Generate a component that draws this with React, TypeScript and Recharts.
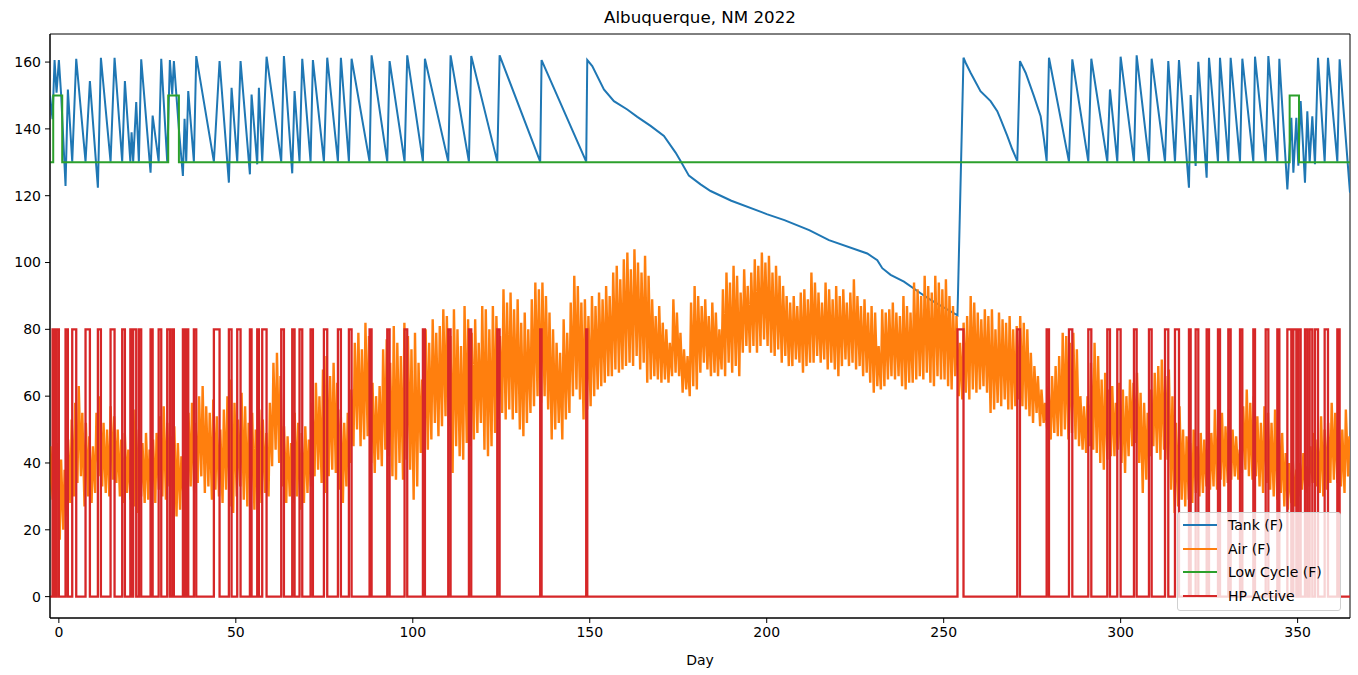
import { LineChart, Line, XAxis, YAxis, ReferenceArea } from 'recharts';

const DAY_MIN = -2.5;
const DAY_MAX = 364.8;
const Y_MIN = -6.4;
const Y_MAX = 168.4;

const xTicks = [0, 50, 100, 150, 200, 250, 300, 350];
const yTicks = [0, 20, 40, 60, 80, 100, 120, 140, 160];

// Tank temperature (F): [day, value] at each turning point of the sawtooth
const tank: [number, number][] = [
  [-2.5, 150], [-1.78, 142.9], [-1.21, 160.6], [-0.65, 150.8], [0.01, 160.6], [0.67, 149.8],
  [1.89, 122.9], [2.55, 151.8], [3.78, 130.2], [4.91, 161], [7.54, 130.2], [8.77, 154.3],
  [11.03, 122.4], [11.88, 161.3], [14.61, 130.2], [15.74, 161.3], [17.9, 130.2], [18.66, 154.3],
  [20.2, 130.2], [20.55, 139], [21.0, 130.2], [21.86, 148], [22.61, 130.2], [23.27, 160.8],
  [25.91, 126.9], [26.5, 144], [28.2, 130.2], [28.93, 161], [30.62, 130.2], [31.37, 160.6],
  [32.03, 150.3], [32.5, 160.3], [33.92, 139.9], [35.05, 125.9], [35.52, 143], [35.99, 130.2],
  [36.56, 151.3], [38.15, 130.2], [38.82, 161.8], [43.8, 130.2], [45.41, 160.3], [48.04, 123.9],
  [48.8, 152.3], [50.4, 130.2], [51.34, 160.3], [53.98, 126.4], [54.45, 150.3], [56.05, 129.4],
  [56.52, 152.3], [57.46, 130.2], [58.69, 161.6], [62.83, 130.2], [63.59, 161.8], [65.94, 126.7],
  [66.6, 151.3], [68.0, 130.2], [68.77, 161], [71.12, 130.2], [71.78, 160.6], [74.89, 130.2],
  [75.83, 161.3], [78.85, 130.2], [79.69, 161.3], [81.95, 130.2], [82.71, 161], [87.79, 130.2],
  [88.36, 162], [92.79, 130.2], [93.45, 160.3], [97.68, 130.2], [98.43, 162], [102.86, 130.2],
  [103.43, 161], [110.02, 130.2], [110.68, 162], [115.86, 130.2], [116.52, 161.8], [123.87, 130.2],
  [124.53, 162], [136.0, 130.2], [136.39, 160.6], [149.0, 130.2], [149.3, 160.6], [150.71, 158.8],
  [154.0, 151.8], [156.83, 148.3], [160.6, 145.8], [163.43, 143.6], [167.19, 140.9], [170.96, 137.9],
  [174.25, 132.9], [175.66, 130.4], [178.01, 126], [181.31, 123.4], [184.14, 121.4], [190, 118.5],
  [200, 114.5], [205, 112.7], [212, 109.7], [217.58, 106.7], [228.4, 102.7], [231.24, 100.7],
  [232.65, 98.3], [235.0, 96.3], [238.77, 94.3], [243.48, 90.8], [246.3, 88.8], [253.9, 84.2],
  [255.6, 161.3], [256.2, 159.8], [257.6, 156.8], [260.4, 151.3], [263.25, 148.3], [265.14, 145.3],
  [266.08, 142.9], [267.97, 137.9], [269.38, 133.9], [270.79, 130.4], [271.55, 160.3], [273.15, 156.8],
  [275.5, 149.8], [277.39, 143.8], [278.33, 136.9], [279.09, 130.4], [279.75, 161.3], [285.4, 130.2],
  [286.34, 160.8], [290.86, 130.2], [291.71, 161], [296.23, 130.2], [296.98, 151.8], [299.05, 130.2],
  [299.99, 161.6], [303.76, 130.2], [304.52, 162], [308.0, 130.2], [308.76, 161], [312.53, 130.2],
  [313.46, 160.3], [315.35, 130.2], [316.48, 160.6], [319.3, 122.4], [319.78, 150.1], [321.19, 128.9],
  [321.94, 160.1], [324.3, 125.4], [324.96, 161.3], [327.5, 130.2], [328.07, 161.3], [330.42, 130.2],
  [331.08, 161.3], [333.72, 130.2], [334.38, 161], [337.49, 130.2], [337.96, 161.6], [340.98, 130.2],
  [341.73, 161.8], [344.27, 130.2], [344.84, 161], [347.1, 121.9], [348.22, 143.3], [348.8, 126.9],
  [349.64, 143.3], [350.2, 129], [350.86, 148.3], [352.08, 123.9], [352.74, 145.3], [353.4, 129.9],
  [354.15, 143.8], [354.9, 129.4], [355.76, 161.3], [357.64, 130.2], [358.58, 161.3], [361.22, 130.2],
  [361.87, 160.8], [364.8, 120.9],
];

// Outdoor air (F): daily low and high, one value per day starting at AIR_FIRST_DAY
const AIR_FIRST_DAY = -3;
const airLow = [
  30, 29, 32, 17, 20, 24, 28, 30, 34, 36,
  27, 30, 28, 31, 36, 33, 31, 30, 35, 34,
  30, 28, 31, 29, 27, 25, 30, 28, 29, 31,
  28, 32, 30, 29, 33, 27, 24, 26, 29, 31,
  33, 31, 34, 36, 31, 33, 29, 32, 30, 28,
  32, 27, 25, 30, 33, 29, 27, 30, 26, 25,
  28, 31, 30, 39, 44, 40, 33, 28, 30, 28,
  30, 26, 28, 31, 33, 36, 38, 34, 31, 36,
  38, 37, 32, 28, 33, 40, 45, 50, 45, 47,
  48, 40, 37, 41, 39, 44, 42, 36, 35, 40,
  35, 41, 38, 29, 33, 43, 46, 44, 47, 52,
  48, 51, 54, 51, 37, 45, 42, 41, 46, 45,
  47, 49, 52, 44, 42, 45, 49, 53, 55, 53,
  56, 53, 55, 50, 48, 52, 55, 57, 60, 58,
  60, 56, 47, 50, 52, 47, 53, 55, 60, 62,
  59, 53, 56, 57, 60, 62, 63, 64, 66, 66,
  68, 67, 68, 69, 70, 69, 72, 68, 70, 64,
  65, 66, 65, 64, 65, 64, 66, 67, 66, 61,
  62, 60, 63, 62, 67, 70, 68, 66, 67, 66,
  68, 66, 70, 67, 69, 66, 73, 75, 73, 75,
  73, 75, 77, 75, 73, 72, 74, 70, 72, 69,
  69, 71, 70, 67, 69, 70, 70, 72, 70, 71,
  68, 70, 68, 66, 69, 71, 69, 70, 68, 69,
  66, 67, 64, 61, 63, 62, 63, 65, 66, 65,
  66, 63, 62, 64, 64, 65, 66, 65, 67, 64,
  63, 66, 65, 65, 63, 62, 66, 60, 59, 61,
  59, 62, 61, 62, 63, 61, 55, 56, 58, 57,
  59, 56, 56, 57, 59, 57, 56, 54, 52, 55,
  51, 52, 50, 47, 49, 48, 48, 50, 47, 49,
  47, 45, 44, 43, 45, 44, 43, 40, 38, 41,
  42, 42, 44, 40, 37, 42, 45, 46, 40, 31,
  35, 42, 45, 43, 41, 44, 41, 32, 25, 27,
  29, 27, 29, 28, 31, 30, 31, 33, 32, 33,
  32, 35, 33, 34, 35, 36, 35, 37, 38, 36,
  35, 36, 33, 31, 34, 32, 30, 29, 31, 27,
  26, 28, 27, 30, 32, 31, 33, 34, 33, 31,
  30, 32, 34, 35, 34, 33, 31, 36,
];
const airHigh = [
  45, 49, 46, 41, 38, 47, 53, 58, 63, 55,
  52, 48, 45, 55, 60, 52, 50, 57, 54, 50,
  47, 49, 44, 52, 56, 50, 46, 49, 44, 47,
  49, 54, 57, 52, 48, 51, 46, 42, 49, 55,
  58, 52, 60, 63, 57, 55, 59, 54, 50, 56,
  60, 65, 58, 53, 61, 57, 52, 55, 50, 56,
  53, 49, 58, 70, 73, 66, 51, 48, 46, 55,
  52, 49, 51, 47, 58, 64, 60, 68, 72, 66,
  70, 64, 56, 52, 55, 62, 76, 79, 74, 82,
  78, 64, 60, 63, 74, 77, 70, 81, 76, 72,
  82, 78, 74, 79, 70, 65, 80, 76, 83, 79,
  81, 86, 84, 78, 86, 80, 75, 87, 83, 79,
  83, 76, 87, 86, 80, 87, 84, 78, 92, 88,
  91, 86, 89, 82, 85, 80, 89, 94, 92, 94,
  90, 85, 80, 76, 73, 83, 79, 88, 96, 93,
  88, 89, 84, 90, 87, 91, 89, 93, 90, 97,
  99, 95, 101, 103, 98, 104, 100, 97, 102, 96,
  89, 84, 87, 82, 80, 76, 89, 85, 79, 74,
  72, 88, 93, 90, 87, 89, 84, 88, 85, 80,
  92, 97, 94, 99, 96, 91, 98, 93, 97, 101,
  99, 103, 100, 102, 97, 99, 96, 93, 90, 88,
  90, 87, 91, 92, 89, 97, 94, 91, 88, 94,
  92, 89, 93, 90, 92, 88, 91, 95, 90, 87,
  89, 85, 87, 85, 75, 86, 85, 86, 88, 85,
  84, 90, 87, 85, 94, 92, 90, 96, 93, 91,
  96, 94, 92, 95, 90, 87, 84, 76, 82, 84,
  90, 88, 85, 83, 86, 84, 86, 80, 85, 83,
  82, 84, 80, 81, 84, 82, 80, 73, 69, 66,
  62, 58, 63, 66, 69, 72, 79, 78, 76, 79,
  74, 60, 57, 60, 70, 76, 72, 65, 67, 62,
  63, 58, 64, 62, 60, 65, 64, 67, 61, 58,
  55, 62, 67, 69, 71, 66, 68, 60, 52, 57,
  50, 48, 46, 50, 45, 49, 47, 44, 49, 56,
  52, 55, 51, 56, 50, 48, 44, 57, 62, 58,
  60, 54, 52, 57, 55, 52, 56, 53, 49, 43,
  40, 41, 38, 40, 43, 39, 45, 49, 47, 54,
  50, 52, 58, 55, 52, 50, 56, 48,
];
// fraction of the day at which the daily low / high is reached
const LOW_AT = 0.25;
const HIGH_AT = 0.625;

// Low-cycle setpoint (F): [day it changes, new value]
const lowCycle: [number, number][] = [
  [-2.5, 130], [-1.59, 150], [0.95, 130], [30.9, 150], [33.92, 130],
  [347.75, 150], [350.39, 130], [364.8, 130],
];

// Heat pump running: [day on, day off]
const HP_LEVEL = 80;
const hpRuns: [number, number][] = [
  [-1.78, -1.21], [-0.65, 0.01], [1.89, 2.55], [3.78, 4.91], [7.54, 8.77], [11.03, 11.88],
  [14.61, 15.74], [17.9, 18.66], [20.2, 20.55], [21.0, 21.86], [22.61, 23.27], [25.91, 26.5],
  [28.2, 28.93], [30.62, 31.37], [32.03, 32.5], [35.05, 35.52], [35.99, 36.56], [38.15, 38.82],
  [43.8, 45.41], [48.04, 48.8], [50.4, 51.34], [53.98, 54.45], [56.05, 56.52], [57.46, 58.69],
  [62.83, 63.59], [65.94, 66.6], [68.0, 68.77], [71.12, 71.78], [74.89, 75.83], [78.85, 79.69],
  [81.95, 82.71], [87.79, 88.36], [92.79, 93.45], [97.68, 98.43], [102.86, 103.43], [110.02, 110.68],
  [115.86, 116.52], [123.87, 124.53], [136.0, 136.39], [149.0, 149.3], [253.9, 255.6], [270.79, 271.55],
  [279.09, 279.75], [285.4, 286.34], [290.86, 291.71], [296.23, 296.98], [299.05, 299.99], [303.76, 304.52],
  [308.0, 308.76], [312.53, 313.46], [315.35, 316.48], [319.3, 319.78], [321.19, 321.94], [324.3, 324.96],
  [327.5, 328.07], [330.42, 331.08], [333.72, 334.38], [337.49, 337.96], [340.98, 341.73], [344.27, 344.84],
  [347.1, 348.22], [348.8, 349.64], [350.2, 350.86], [352.08, 352.74], [353.4, 354.15], [354.9, 355.76],
  [357.64, 358.58], [361.22, 361.87],
];

const tankData = tank.map(([x, v]) => ({ x, tank: v }));
const airData = airLow.flatMap((lo, i) => [
  { x: AIR_FIRST_DAY + i + LOW_AT, air: lo },
  { x: AIR_FIRST_DAY + i + HIGH_AT, air: airHigh[i] },
]);
const lowData = lowCycle.map(([x, v]) => ({ x, low: v }));
const hpData = [
  { x: DAY_MIN, hp: 0 },
  ...hpRuns.flatMap(([on, off]) => [
    { x: on, hp: HP_LEVEL },
    { x: off, hp: 0 },
  ]),
  { x: DAY_MAX, hp: 0 },
];

const legendItems = [
  { name: 'Tank (F)', color: '#1f77b4' },
  { name: 'Air (F)', color: '#ff7f0e' },
  { name: 'Low Cycle (F)', color: '#2ca02c' },
  { name: 'HP Active', color: '#d62728' },
];

const tickStyle = { fill: '#000', fontSize: 14 };

export default function App() {
  return (
    <div
      style={{
        position: 'absolute',
        left: 0,
        top: 0,
        width: 1358,
        height: 675,
        background: '#fff',
        fontFamily: '"DejaVu Sans", sans-serif',
      }}
    >
      <div
        style={{
          position: 'absolute',
          left: 50,
          top: 7,
          width: 1300,
          textAlign: 'center',
          fontSize: 16.7,
          color: '#000',
        }}
      >
        Albuquerque, NM 2022
      </div>
      <LineChart width={1358} height={675} margin={{ top: 34, right: 8, bottom: 0, left: 0 }}>
        <XAxis
          type="number"
          dataKey="x"
          domain={[DAY_MIN, DAY_MAX]}
          allowDataOverflow
          ticks={xTicks}
          tick={tickStyle}
          tickSize={5}
          tickMargin={4}
          stroke="#000"
          height={57}
          label={{ value: 'Day', position: 'insideBottom', offset: 10, fill: '#000', fontSize: 14 }}
        />
        <YAxis
          type="number"
          domain={[Y_MIN, Y_MAX]}
          allowDataOverflow
          ticks={yTicks}
          tick={tickStyle}
          tickSize={5}
          tickMargin={4}
          stroke="#000"
          width={50}
        />
        <Line
          data={tankData}
          dataKey="tank"
          type="linear"
          stroke="#1f77b4"
          strokeWidth={2}
          dot={false}
          activeDot={false}
          isAnimationActive={false}
        />
        <Line
          data={airData}
          dataKey="air"
          type="linear"
          stroke="#ff7f0e"
          strokeWidth={2.4}
          dot={false}
          activeDot={false}
          isAnimationActive={false}
        />
        <Line
          data={lowData}
          dataKey="low"
          type="stepAfter"
          stroke="#2ca02c"
          strokeWidth={2}
          dot={false}
          activeDot={false}
          isAnimationActive={false}
        />
        <Line
          data={hpData}
          dataKey="hp"
          type="stepAfter"
          stroke="#d62728"
          strokeWidth={2.3}
          dot={false}
          activeDot={false}
          isAnimationActive={false}
        />
        <ReferenceArea
          x1={DAY_MIN}
          x2={DAY_MAX}
          y1={Y_MIN}
          y2={Y_MAX}
          fill="none"
          stroke="#000"
          strokeWidth={1}
          ifOverflow="visible"
        />
      </LineChart>
      <div
        style={{
          position: 'absolute',
          left: 1177,
          top: 512,
          width: 164,
          height: 99,
          boxSizing: 'border-box',
          border: '1px solid #d0d0d0',
          borderRadius: 3,
          background: 'rgba(255,255,255,0.8)',
          fontSize: 14,
          color: '#000',
        }}
      >
        {legendItems.map((item) => (
          <div key={item.name} style={{ display: 'flex', alignItems: 'center', height: 23.8, marginLeft: 5 }}>
            <span style={{ display: 'inline-block', width: 34, height: 2, background: item.color }} />
            <span style={{ marginLeft: 11, whiteSpace: 'nowrap' }}>{item.name}</span>
          </div>
        ))}
      </div>
    </div>
  );
}
